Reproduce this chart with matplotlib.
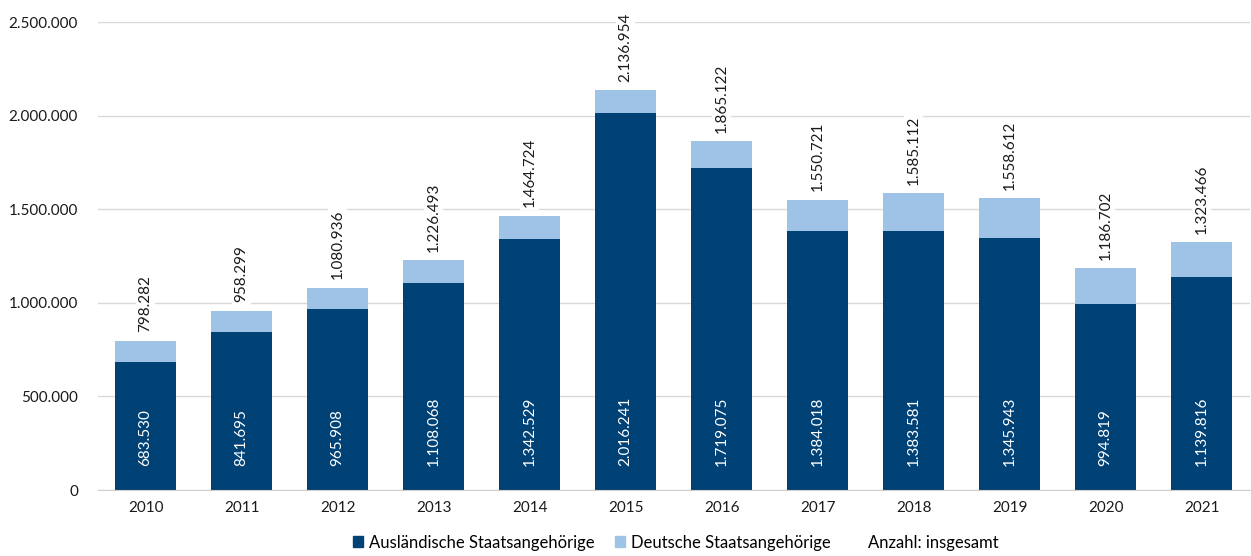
import numpy as np
import matplotlib.pyplot as plt
from matplotlib.patches import Patch
from matplotlib.ticker import FuncFormatter

plt.rcParams['font.family'] = ['Lato', 'DejaVu Sans']

years = ['2010', '2011', '2012', '2013', '2014', '2015',
         '2016', '2017', '2018', '2019', '2020', '2021']
auslaendisch = [683530, 841695, 965908, 1108068, 1342529, 2016241,
                1719075, 1384018, 1383581, 1345943, 994819, 1139816]
insgesamt = [798282, 958299, 1080936, 1226493, 1464724, 2136954,
             1865122, 1550721, 1585112, 1558612, 1186702, 1323466]
deutsch = [t - a for t, a in zip(insgesamt, auslaendisch)]

DARK = '#004176'
LIGHT = '#9fc3e7'


def de_fmt(v):
    return f'{int(round(v)):,}'.replace(',', '.')


fig = plt.figure(figsize=(12.51, 5.56), dpi=100)
ax = fig.add_axes([0.078, 0.1187, 0.921, 0.8417])

x = np.arange(len(years))
w = 0.63
ax.bar(x, auslaendisch, w, color=DARK, zorder=3)
ax.bar(x, deutsch, w, bottom=auslaendisch, color=LIGHT, zorder=3)

for xi, a, t in zip(x, auslaendisch, insgesamt):
    ax.annotate(de_fmt(a), (xi, 0), xytext=(0, 17), textcoords='offset points',
                ha='center', va='bottom', rotation=90, color='white',
                fontsize=11, zorder=4)
    ax.annotate(de_fmt(t), (xi, t), xytext=(0, 6), textcoords='offset points',
                ha='center', va='bottom', rotation=90, color='#1a1a1a',
                fontsize=11, zorder=4,
                bbox=dict(boxstyle='square,pad=0.15', fc='white', ec='none'))

ax.set_xlim(-0.5, len(years) - 0.5)
ax.set_ylim(0, 2500000)
ax.set_yticks(np.arange(0, 2500001, 500000))
ax.yaxis.set_major_formatter(FuncFormatter(lambda v, p: de_fmt(v)))
ax.set_xticks(x)
ax.set_xticklabels(years)
ax.tick_params(axis='both', length=0, labelsize=11, colors='#1a1a1a')
ax.tick_params(axis='y', pad=14)
ax.tick_params(axis='x', pad=8)

ax.grid(axis='y', color='#d9d9d9', linewidth=1, zorder=0)
for s in ['top', 'right', 'left']:
    ax.spines[s].set_visible(False)
ax.spines['bottom'].set_color('#d0d0d0')
ax.spines['bottom'].set_zorder(5)

handles = [Patch(color=DARK, label='Ausländische Staatsangehörige'),
           Patch(color=LIGHT, label='Deutsche Staatsangehörige'),
           Patch(color='none', label='Anzahl: insgesamt')]
fig.legend(handles=handles, loc='center', bbox_to_anchor=(0.54, 0.024),
           ncol=3, frameon=False, fontsize=12, handlelength=0.6,
           handleheight=0.6, handletextpad=0.4, columnspacing=1.2)

fig.savefig('out.png', dpi=100)
